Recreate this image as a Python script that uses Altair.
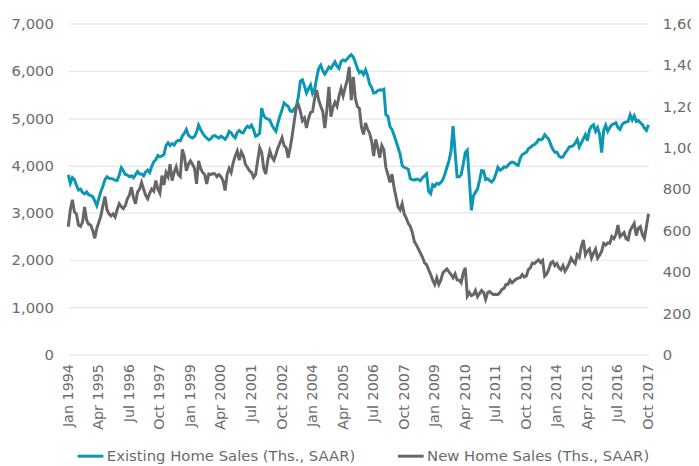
import altair as alt
import pandas as pd

# ---- data (thousands, SAAR), monthly Jan 1994 .. Oct 2017 ----
tick_labels = ["Jan 1994", "Apr 1995", "Jul 1996", "Oct 1997", "Jan 1999", "Apr 2000",
               "Jul 2001", "Oct 2002", "Jan 2004", "Apr 2005", "Jul 2006", "Oct 2007",
               "Jan 2009", "Apr 2010", "Jul 2011", "Oct 2012", "Jan 2014", "Apr 2015",
               "Jul 2016", "Oct 2017"]
tick_months = [15 * i for i in range(len(tick_labels))]

existing_sales = [
    3800, 3620, 3740, 3700, 3580, 3480, 3500, 3430, 3400, 3440, 3380, 3360,  # 1994
    3340, 3250, 3150, 3300, 3450, 3560, 3700, 3760, 3730, 3720, 3710, 3690,  # 1995
    3680, 3790, 3950, 3890, 3810, 3800, 3760, 3780, 3740, 3800, 3870, 3820,  # 1996
    3820, 3780, 3860, 3900, 3850, 3980, 4080, 4120, 4210, 4180, 4200, 4230,  # 1997
    4420, 4480, 4420, 4460, 4430, 4500, 4530, 4520, 4620, 4680, 4760, 4640,  # 1998
    4600, 4580, 4610, 4700, 4850, 4760, 4680, 4620, 4580, 4540, 4560, 4620,  # 1999
    4630, 4600, 4580, 4620, 4590, 4550, 4610, 4720, 4690, 4620, 4580, 4700,  # 2000
    4740, 4700, 4690, 4780, 4830, 4800, 4850, 4760, 4620, 4640, 4680, 5210,  # 2001
    5050, 5000, 4980, 4960, 4850, 4780, 4720, 4900, 5050, 5180, 5320, 5280,  # 2002
    5250, 5150, 5140, 5200, 5240, 5450, 5780, 5810, 5680, 5530, 5620, 5700,  # 2003
    5520, 5600, 5850, 6050, 6120, 6000, 5930, 6000, 6080, 6050, 6120, 6190,  # 2004
    6100, 6050, 6200, 6230, 6210, 6250, 6300, 6340, 6290, 6180, 6050, 5960,  # 2005
    5990, 5920, 6020, 5900, 5720, 5650, 5530, 5540, 5580, 5600, 5590, 5610,  # 2006
    5070, 5040, 4820, 4760, 4640, 4510, 4380, 4240, 4000, 3960, 3940, 3920,  # 2007
    3720, 3700, 3690, 3710, 3700, 3680, 3740, 3780, 3820, 3450, 3400, 3590,  # 2008
    3560, 3620, 3600, 3640, 3700, 3820, 3960, 4100, 4300, 4830, 4280, 3760,  # 2009
    3760, 3800, 4030, 4270, 4320, 3700, 3050, 3360, 3430, 3500, 3680, 3890,  # 2010
    3880, 3700, 3720, 3680, 3650, 3700, 3820, 3960, 3900, 3920, 3970, 3960,  # 2011
    4000, 4050, 4070, 4060, 4020, 4000, 4150, 4230, 4250, 4280, 4350, 4380,  # 2012
    4420, 4440, 4480, 4550, 4540, 4560, 4650, 4600, 4550, 4440, 4340, 4280,  # 2013
    4280, 4200, 4170, 4180, 4260, 4310, 4390, 4400, 4420, 4470, 4550, 4390,  # 2014
    4480, 4560, 4650, 4520, 4750, 4830, 4860, 4720, 4800, 4650, 4270, 4740,  # 2015
    4850, 4720, 4800, 4860, 4880, 4900, 4800, 4760, 4860, 4900, 4920, 4930,  # 2016
    5070, 4960, 5050, 4930, 4950, 4900, 4860, 4790, 4740, 4860,              # 2017
]

new_sales = [
    618, 700, 748, 690, 680, 626, 620, 640, 713, 650, 630, 626,              # 1994
    600, 562, 610, 640, 670, 720, 764, 700, 680, 670, 680, 665,              # 1995
    700, 729, 715, 705, 720, 753, 770, 809, 760, 729, 785, 800,              # 1996
    832, 800, 770, 753, 780, 800, 790, 841, 800, 780, 865, 820,              # 1997
    880, 860, 920, 841, 880, 907, 870, 860, 992, 960, 888, 920,              # 1998
    936, 920, 900, 825, 936, 900, 880, 870, 825, 873, 870, 875,              # 1999
    873, 860, 870, 860, 840, 793, 870, 900, 880, 928, 960, 984,              # 2000
    940, 980, 960, 920, 904, 888, 880, 856, 870, 936, 1000, 976,             # 2001
    900, 873, 940, 984, 955, 940, 968, 1000, 1024, 1048, 1010, 1000,         # 2002
    952, 1000, 1060, 1127, 1199, 1207, 1175, 1130, 1143, 1095, 1140, 1170,   # 2003
    1175, 1238, 1278, 1230, 1200, 1175, 1095, 1180, 1294, 1150, 1195, 1220,  # 2004
    1200, 1250, 1286, 1250, 1290, 1326, 1390, 1230, 1342, 1238, 1199, 1190,  # 2005
    1100, 1064, 1119, 1090, 1070, 1032, 960, 1040, 1000, 952, 1010, 990,     # 2006
    904, 870, 832, 872, 809, 760, 713, 700, 729, 680, 660, 634,              # 2007
    620, 590, 546, 530, 510, 490, 470, 443, 435, 410, 387, 360,              # 2008
    339, 371, 339, 360, 395, 405, 414, 400, 387, 371, 390, 360,              # 2009
    360, 347, 395, 419, 283, 300, 285, 290, 310, 280, 295, 310,              # 2010
    300, 267, 300, 305, 295, 290, 292, 290, 300, 315, 320, 339,              # 2011
    340, 360, 347, 356, 365, 370, 372, 387, 375, 380, 411, 420,              # 2012
    443, 440, 450, 458, 445, 455, 379, 390, 411, 443, 450, 430,              # 2013
    440, 419, 410, 430, 403, 420, 440, 466, 450, 440, 482, 470,              # 2014
    522, 554, 482, 500, 510, 466, 490, 510, 466, 480, 500, 538,              # 2015
    530, 540, 538, 570, 560, 580, 626, 570, 580, 590, 560, 554,              # 2016
    600, 618, 634, 575, 610, 618, 580, 562, 620, 681,                        # 2017
]

series_names = ["Existing Home Sales (Ths., SAAR)", "New Home Sales (Ths., SAAR)"]
series_colors = ["#0a97b4", "#666666"]
left_ticks = list(range(0, 7001, 1000))
right_ticks = list(range(0, 1601, 200))

n = len(existing_sales)
df = pd.DataFrame({
    "month": list(range(n)) * 2,
    "series": [series_names[0]] * n + [series_names[1]] * n,
    "value": existing_sales + new_sales,
})

FONT = "DejaVu Sans"
GRAY = "#6b6b6b"

label_expr = "[" + ",".join("'%s'" % t for t in tick_labels) + "][round(datum.value / 15)]"

x_enc = alt.X(
    "month:Q",
    scale=alt.Scale(domain=[0, n - 1], nice=False, zero=False),
    axis=alt.Axis(values=tick_months, labelExpr=label_expr, labelAngle=270,
                  labelPadding=9, grid=False, domain=False, ticks=False, title=None,
                  labelFontSize=14.5, labelColor=GRAY, labelFont=FONT,
                  labelFlush=False, labelOverlap=False),
)

color_enc = alt.Color(
    "series:N",
    scale=alt.Scale(domain=series_names, range=series_colors),
    legend=alt.Legend(title=None, orient="none", legendX=8, legendY=423,
                      direction="horizontal", symbolType="stroke", symbolSize=676,
                      symbolStrokeWidth=3, labelFontSize=15, labelColor=GRAY,
                      labelFont=FONT, columnPadding=36, labelOffset=2,
                      labelLimit=400, padding=0),
)

base = alt.Chart(df)

left = base.transform_filter(alt.datum.series == series_names[0]).mark_line(strokeWidth=3).encode(
    x=x_enc,
    y=alt.Y("value:Q", scale=alt.Scale(domain=[0, 7000], nice=False),
            axis=alt.Axis(values=left_ticks, format=",d", orient="left", grid=True,
                          gridColor="#e6e6e6", gridWidth=1.2, domain=False, ticks=False,
                          title=None, labelPadding=15, labelFontSize=15,
                          labelColor=GRAY, labelFont=FONT)),
    color=color_enc,
)

right = base.transform_filter(alt.datum.series == series_names[1]).mark_line(strokeWidth=3).encode(
    x=x_enc,
    y=alt.Y("value:Q", scale=alt.Scale(domain=[0, 1600], nice=False),
            axis=alt.Axis(values=right_ticks, format=",d", orient="right", grid=False,
                          domain=False, ticks=False, title=None, labelPadding=14,
                          labelFontSize=15, labelColor=GRAY, labelFont=FONT)),
    color=color_enc,
)

chart = (
    alt.layer(left, right)
    .resolve_scale(y="independent")
    .properties(width=587, height=335,
                autosize=alt.AutoSizeParams(type="none"),
                padding={"left": 61, "top": 13, "right": 43, "bottom": 110})
    .configure_view(stroke=None)
)

chart.save("out.html", embed_options={"renderer": "svg", "actions": False})
